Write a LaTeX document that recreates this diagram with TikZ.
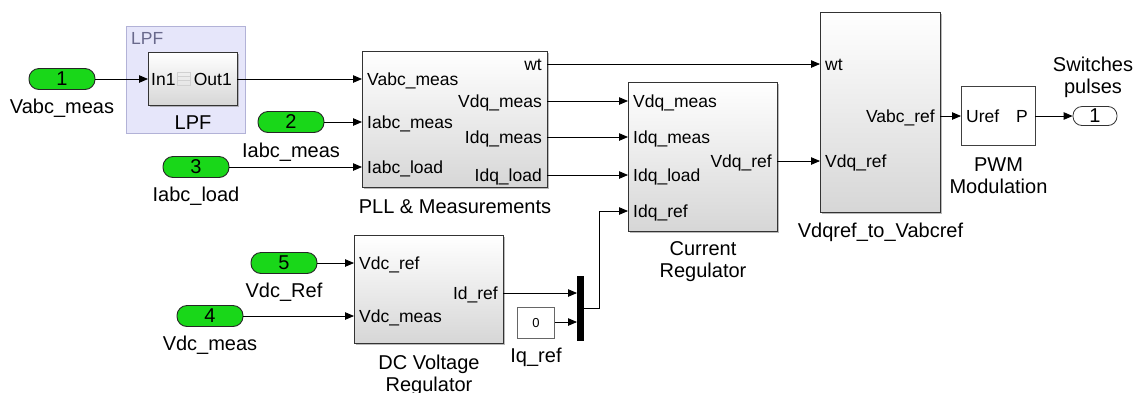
\documentclass[tikz,border=0pt]{standalone}
\usepackage{fontspec}
\setmainfont{Liberation Sans}
\usetikzlibrary{arrows.meta,positioning,shadows}
\definecolor{portgreen}{RGB}{25,215,25}
\definecolor{lpfback}{RGB}{230,230,250}
\definecolor{lpfedge}{RGB}{178,178,215}
\definecolor{lpftext}{RGB}{105,105,140}

\tikzset{
  wire/.style={draw=black, line width=0.8pt, -{Triangle[length=9pt,width=7.5pt]}},
  block/.style={draw=black!80, line width=1pt, top color=white, bottom color=black!16,
    drop shadow={shadow xshift=1.3pt,shadow yshift=-1.3pt,fill=black!45,opacity=0.6},
    anchor=north west, inner sep=0pt},
  plainblock/.style={draw=black!75, line width=1pt, fill=white, anchor=north west, inner sep=0pt},
  inport/.style={draw=black!85, line width=0.9pt, fill=portgreen, rounded corners=10pt,
    minimum width=66pt, minimum height=21pt, inner sep=0pt, font=\fontsize{20}{22}\selectfont},
  outport/.style={draw=black!80, line width=0.8pt, fill=white, rounded corners=9pt,
    minimum width=44pt, minimum height=19pt, inner sep=0pt, font=\fontsize{20}{22}\selectfont},
  plbl/.style={inner sep=0pt, text height=12.5pt, text depth=0pt, font=\fontsize{17.5}{20}\selectfont},
  title/.style={inner sep=0pt, align=center, font=\fontsize{20}{22}\selectfont},
}

\begin{document}
\begin{tikzpicture}[x=1pt,y=-1pt]
  \useasboundingbox (0,0) rectangle (1141,392);

  % LPF subsystem area
  \draw[lpfedge, fill=lpfback, line width=0.8pt] (126,26) rectangle (245,133);
  \node[plbl, anchor=west, text=lpftext] (lpfgrp) at (131,38) {LPF};
  \node[block, minimum width=89pt, minimum height=53pt] (lpf) at (148,52) {};
  \coordinate (lpfIn) at (148,79);
  \coordinate (lpfOut) at (237,79);
  \node[plbl, anchor=west, xshift=3pt] at (lpfIn) {In1};
  \node[plbl, anchor=east, xshift=-5pt] at (lpfOut) {Out1};
  \draw[black!18, line width=0.8pt] (177,72) rectangle (190,85);
  \draw[black!18, line width=0.8pt] (177,76.3) -- (190,76.3) (177,80.6) -- (190,80.6);
  \node[title, below=10pt of lpf] {LPF};

  % inports
  \node[inport] (in1) at (62,79) {1};
  \node[title, below=9pt of in1] {Vabc\_meas};
  \node[inport] (in2) at (291,122) {2};
  \node[title, below=10pt of in2] {Iabc\_meas};
  \node[inport] (in3) at (196,167) {3};
  \node[title, below=9pt of in3] {Iabc\_load};
  \node[inport] (in5) at (284,263) {5};
  \node[title, below=9pt of in5] {Vdc\_Ref};
  \node[inport] (in4) at (210,316) {4};
  \node[title, below=9pt of in4] {Vdc\_meas};

  % PLL & Measurements
  \node[block, minimum width=185pt, minimum height=136pt] (pll) at (362,51) {};
  \coordinate (pllIn1) at (362,79);
  \coordinate (pllIn2) at (362,122);
  \coordinate (pllIn3) at (362,167);
  \coordinate (pllOut1) at (547,64);
  \coordinate (pllOut2) at (547,101);
  \coordinate (pllOut3) at (547,137);
  \coordinate (pllOut4) at (547,175);
  \node[plbl, anchor=west, xshift=5pt] at (pllIn1) {Vabc\_meas};
  \node[plbl, anchor=west, xshift=5pt] at (pllIn2) {Iabc\_meas};
  \node[plbl, anchor=west, xshift=5pt] at (pllIn3) {Iabc\_load};
  \node[plbl, anchor=east, xshift=-5pt] at (pllOut1) {wt};
  \node[plbl, anchor=east, xshift=-5pt] at (pllOut2) {Vdq\_meas};
  \node[plbl, anchor=east, xshift=-5pt] at (pllOut3) {Idq\_meas};
  \node[plbl, anchor=east, xshift=-5pt] at (pllOut4) {Idq\_load};
  \node[title, below=11pt of pll] {PLL \& Measurements};

  % Current Regulator
  \node[block, minimum width=149pt, minimum height=149pt] (cr) at (628,82) {};
  \coordinate (crIn1) at (628,101);
  \coordinate (crIn2) at (628,137);
  \coordinate (crIn3) at (628,175);
  \coordinate (crIn4) at (628,211);
  \coordinate (crOut) at (777,161);
  \node[plbl, anchor=west, xshift=5pt] at (crIn1) {Vdq\_meas};
  \node[plbl, anchor=west, xshift=5pt] at (crIn2) {Idq\_meas};
  \node[plbl, anchor=west, xshift=5pt] at (crIn3) {Idq\_load};
  \node[plbl, anchor=west, xshift=5pt] at (crIn4) {Idq\_ref};
  \node[plbl, anchor=east, xshift=-5pt] at (crOut) {Vdq\_ref};
  \node[title, below=9pt of cr] {Current\\Regulator};

  % Vdqref_to_Vabcref
  \node[block, minimum width=120pt, minimum height=200pt] (dq2abc) at (820,12) {};
  \coordinate (dqIn1) at (820,64);
  \coordinate (dqIn2) at (820,161);
  \coordinate (dqOut) at (940,116);
  \node[plbl, anchor=west, xshift=5pt] at (dqIn1) {wt};
  \node[plbl, anchor=west, xshift=5pt] at (dqIn2) {Vdq\_ref};
  \node[plbl, anchor=east, xshift=-5pt] at (dqOut) {Vabc\_ref};
  \node[title, below=10pt of dq2abc] {Vdqref\_to\_Vabcref};

  % PWM Modulation
  \node[plainblock, minimum width=74pt, minimum height=59pt] (pwm) at (961,86) {};
  \coordinate (pwmIn) at (961,116);
  \coordinate (pwmOut) at (1035,116);
  \node[plbl, anchor=west, xshift=5pt] at (pwmIn) {Uref};
  \node[plbl, anchor=east, xshift=-7pt] at (pwmOut) {P};
  \node[title, below=12pt of pwm] {PWM\\Modulation};

  % outport
  \node[outport] (out1) at (1095,116) {1};
  \node[title, above=8pt of out1, xshift=-2pt] {Switches\\pulses};

  % DC Voltage Regulator
  \node[block, minimum width=149pt, minimum height=108pt] (dcvr) at (354,235) {};
  \coordinate (dcIn1) at (354,263);
  \coordinate (dcIn2) at (354,316);
  \coordinate (dcOut) at (503,293);
  \node[plbl, anchor=west, xshift=5pt] at (dcIn1) {Vdc\_ref};
  \node[plbl, anchor=west, xshift=5pt] at (dcIn2) {Vdc\_meas};
  \node[plbl, anchor=east, xshift=-5pt] at (dcOut) {Id\_ref};
  \node[title, below=11pt of dcvr] {DC Voltage\\Regulator};

  % constant Iq_ref and mux
  \node[plainblock, draw=black!60, minimum width=37pt, minimum height=31pt,
    font=\fontsize{13}{15}\selectfont] (iqref) at (517,307) {0};
  \node[title, below=9pt of iqref] {Iq\_ref};
  \node[fill=black, minimum width=7pt, minimum height=65pt, inner sep=0pt, anchor=north west] (mux) at (577,276) {};
  \coordinate (muxIn1) at (577,293);
  \coordinate (muxIn2) at (577,322);
  \coordinate (muxOut) at (584,308);

  % connections
  \draw[wire] (in1.east) -- (lpfIn);
  \draw[wire] (lpfOut) -- (pllIn1);
  \draw[wire] (in2.east) -- (pllIn2);
  \draw[wire] (in3.east) -- (pllIn3);
  \draw[wire] (pllOut1) -- (dqIn1);
  \draw[wire] (pllOut2) -- (crIn1);
  \draw[wire] (pllOut3) -- (crIn2);
  \draw[wire] (pllOut4) -- (crIn3);
  \draw[wire] (crOut) -- (dqIn2);
  \draw[wire] (dqOut) -- (pwmIn);
  \draw[wire] (pwmOut) -- (out1.west);
  \draw[wire] (in5.east) -- (dcIn1);
  \draw[wire] (in4.east) -- (dcIn2);
  \draw[wire] (dcOut) -- (muxIn1);
  \draw[wire] (iqref.east |- muxIn2) -- (muxIn2);
  \draw[wire] (muxOut) -- ++(15,0) |- (crIn4);
\end{tikzpicture}
\end{document}
